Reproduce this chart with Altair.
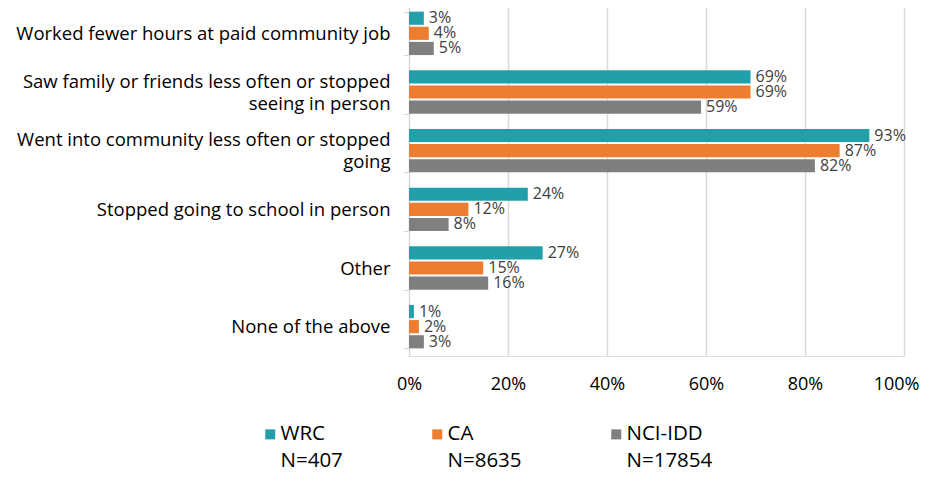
import altair as alt
import pandas as pd

categories = [
    "Worked fewer hours at paid community job",
    "Saw family or friends less often or stopped\nseeing in person",
    "Went into community less often or stopped\ngoing",
    "Stopped going to school in person",
    "Other",
    "None of the above",
]
series = ["WRC\nN=407", "CA\nN=8635", "NCI-IDD\nN=17854"]
wrc = [3, 69, 93, 24, 27, 1]
ca = [4, 69, 87, 12, 15, 2]
nci = [5, 59, 82, 8, 16, 3]
colors = ["#21A0AA", "#ED7D31", "#7F7F7F"]

rows = []
for s, vals in zip(series, [wrc, ca, nci]):
    for c, v in zip(categories, vals):
        rows.append({"category": c, "series": s, "value": v / 100, "label": f"{v}%"})
df = pd.DataFrame(rows)

FONT = "Open Sans"

y = alt.Y(
    "category:N",
    sort=categories,
    title=None,
    scale=alt.Scale(paddingInner=0.26, paddingOuter=0.13),
    axis=alt.Axis(
        labelExpr="split(datum.label, '\\n')",
        labelOffset={"expr": "indexof(datum.label, '\\n') >= 0 ? -11 : 0"},
        labelFont=FONT,
        labelFontSize=18.5,
        labelColor="#000000",
        labelLineHeight=22,
        labelPadding=13,
        labelLimit=500,
        domainColor="#d9d9d9",
        tickColor="#d9d9d9",
        tickSize=6,
        tickBand="extent",
        grid=False,
    ),
)
x = alt.X(
    "value:Q",
    title=None,
    scale=alt.Scale(domain=[0, 1]),
    axis=alt.Axis(
        format="%",
        values=[0, 0.2, 0.4, 0.6, 0.8, 1.0],
        labelFont=FONT,
        labelFontSize=18,
        labelColor="#000000",
        labelPadding=19,
        labelFlush=False,
        labelAlign={"expr": "datum.value >= 1 ? 'right' : 'center'"},
        labelOffset={"expr": "datum.value >= 1 ? 15 : 0"},
        domain=False,
        ticks=False,
        grid=True,
        gridColor="#d9d9d9",
        gridWidth=1.5,
    ),
)
yoff = alt.YOffset("series:N", sort=series, scale=alt.Scale(paddingInner=0.13))
color = alt.Color(
    "series:N",
    sort=series,
    scale=alt.Scale(domain=series, range=colors),
    legend=alt.Legend(
        title=None,
        orient="none",
        legendX=-149,
        legendY=420,
        direction="horizontal",
        columns=3,
        columnPadding=84,
        symbolType="square",
        symbolSize=100,
        symbolStrokeWidth=0,
        labelExpr="split(datum.label, '\\n')",
        labelFont=FONT,
        labelFontSize=20.5,
        labelColor="#000000",
        labelBaseline="middle",
        labelOffset=0,
        labelLimit=300,
    ),
)

bars = alt.Chart(df).mark_bar().encode(x=x, y=y, yOffset=yoff, color=color)
text = alt.Chart(df).mark_text(
    align="left", baseline="middle", dx=5, font=FONT, fontSize=16, color="#404040"
).encode(x=x, y=y, yOffset=yoff, text="label:N")

chart = (
    alt.layer(bars, text)
    .properties(
        width=495,
        height=352,
        autosize=alt.AutoSizeParams(type="none"),
        padding={"left": 401, "top": -4, "right": 16, "bottom": 113},
    )
    .configure_view(stroke=None)
    .configure(background="white", style={"guide-label": {"lineHeight": 27}})
)

chart.save("out.html", embed_options={"renderer": "svg", "actions": False})
